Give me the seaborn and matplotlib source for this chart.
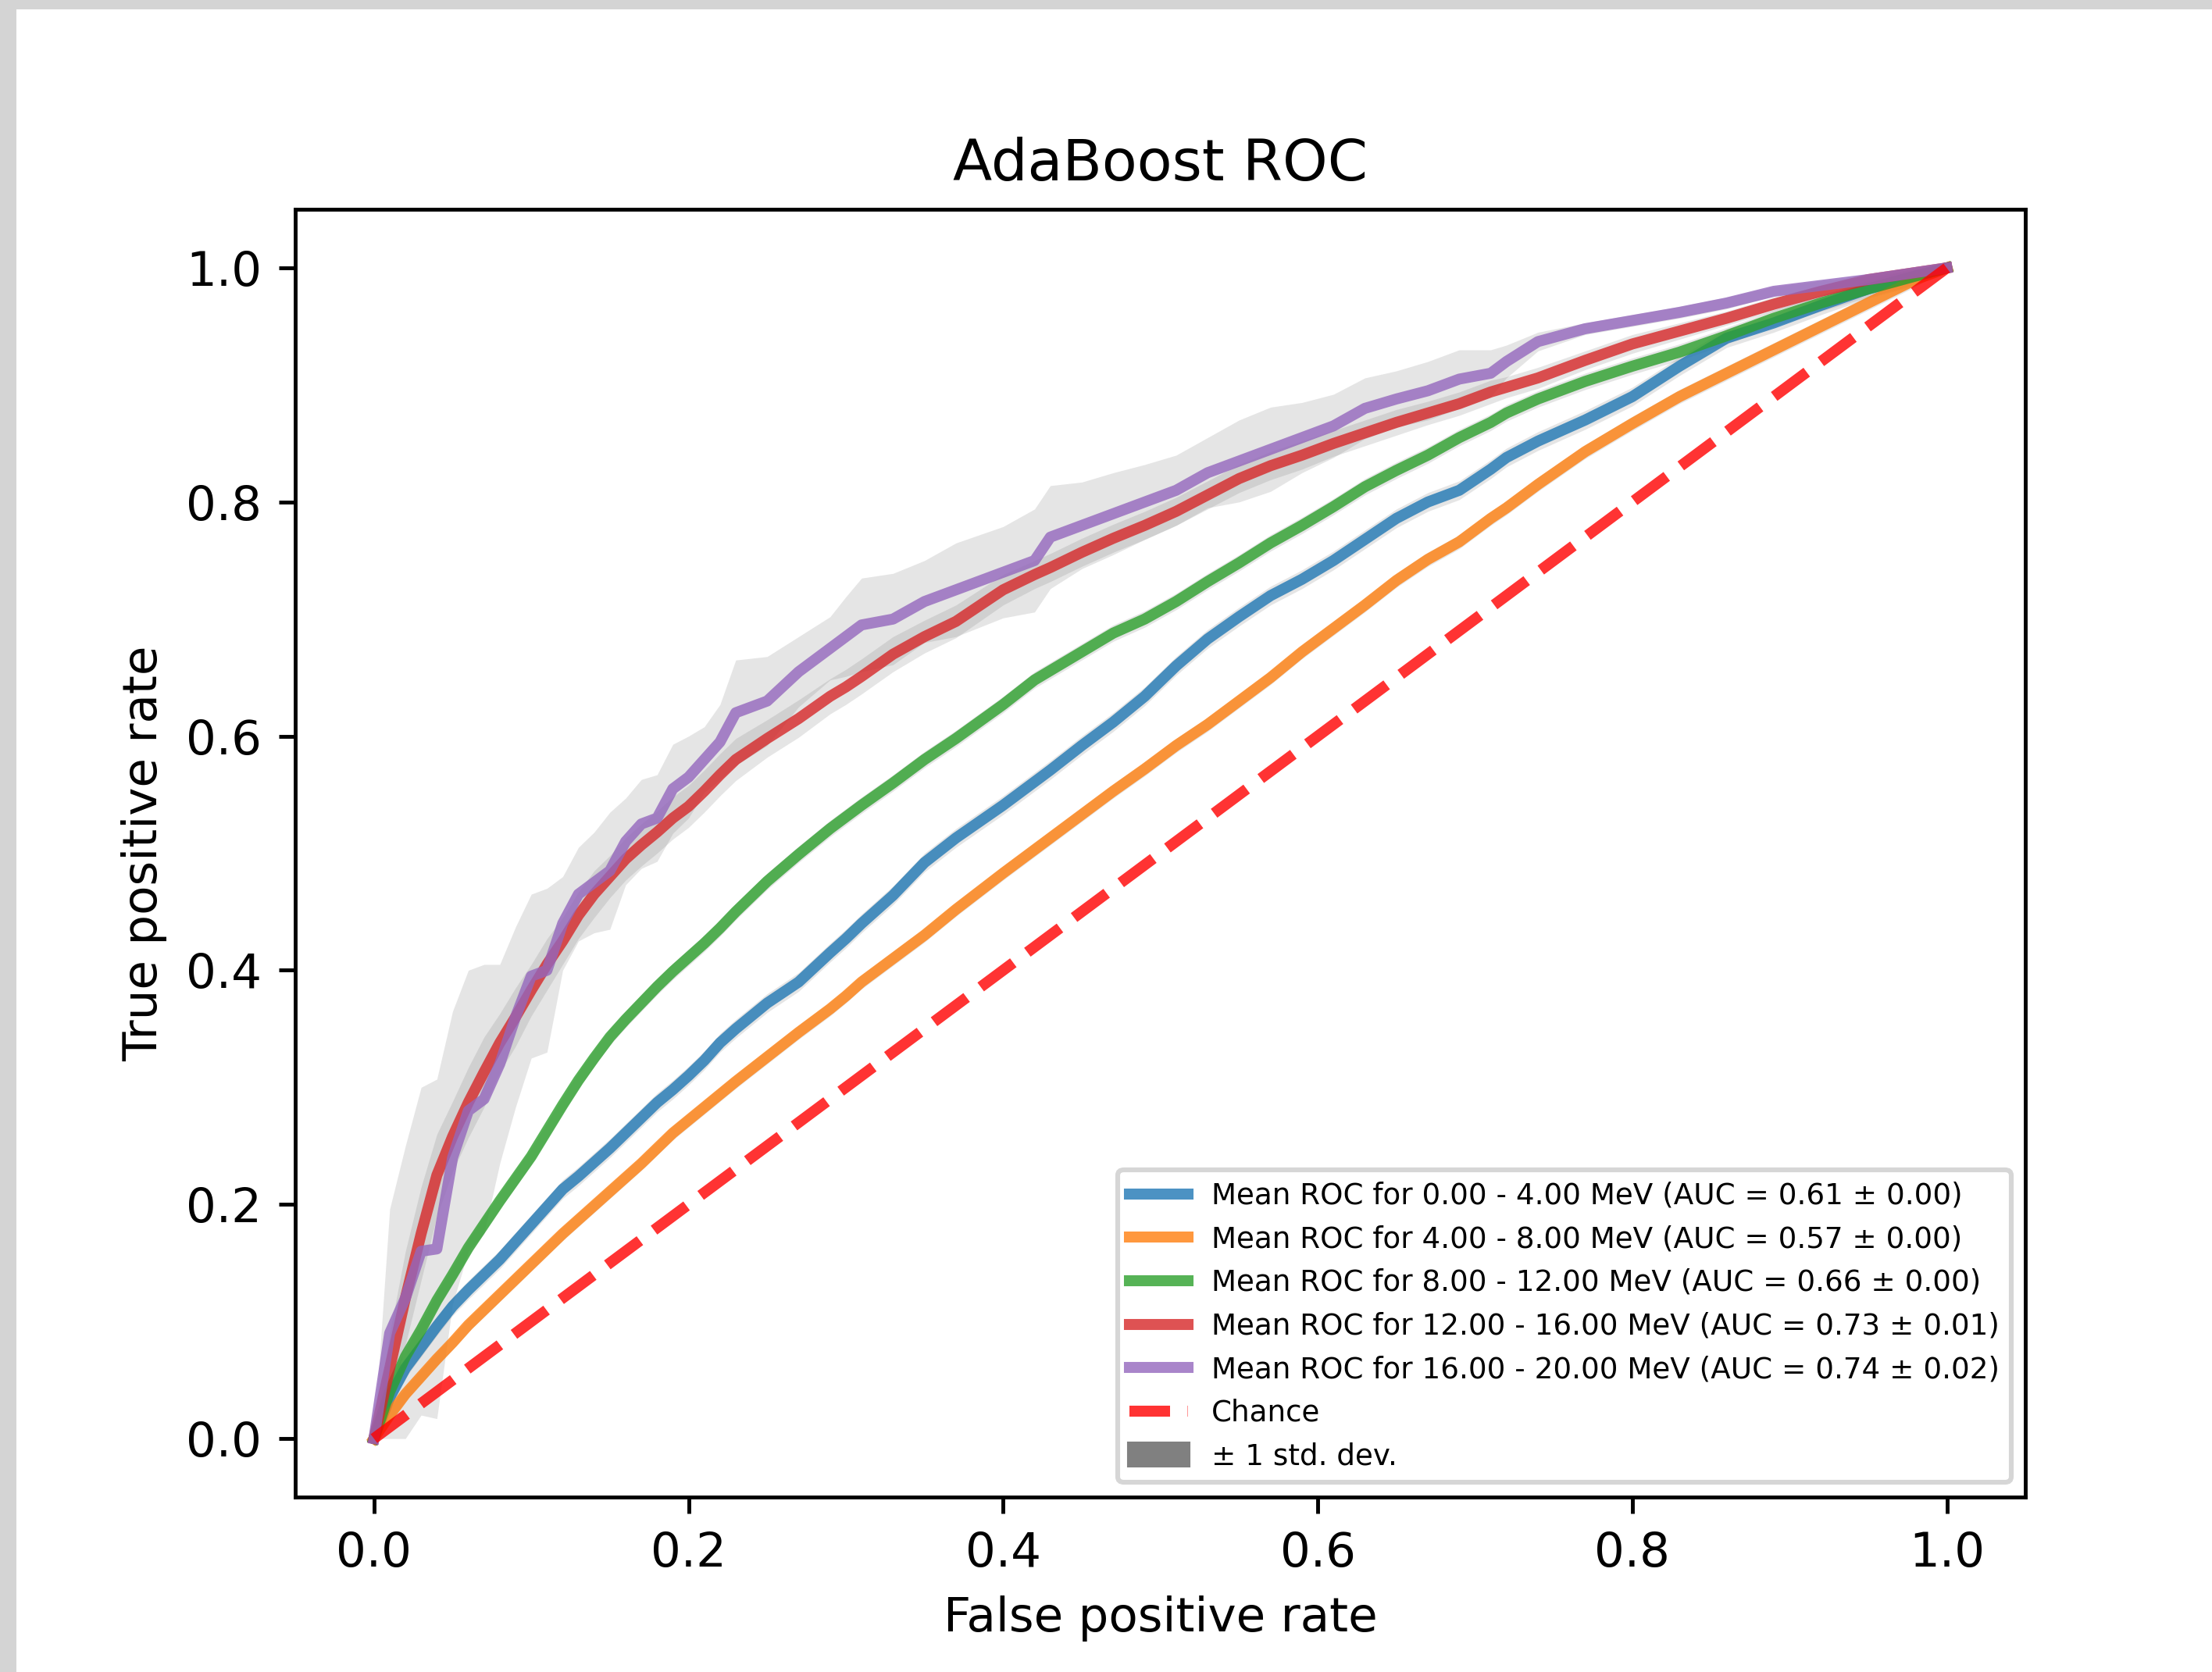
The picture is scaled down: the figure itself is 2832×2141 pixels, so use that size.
import matplotlib
matplotlib.use("Agg")
import matplotlib.pyplot as plt
from matplotlib.patches import Patch, Rectangle
from matplotlib.lines import Line2D
import numpy as np
import seaborn as sns

# ---------------- data ----------------
FPR = [0.00, 0.01, 0.02, 0.03, 0.04, 0.05, 0.06, 0.07, 0.08, 0.09,
       0.10, 0.11, 0.12, 0.13, 0.14, 0.15, 0.16, 0.17, 0.18, 0.19,
       0.20, 0.21, 0.22, 0.23, 0.25, 0.27, 0.29, 0.30, 0.31, 0.33,
       0.35, 0.37, 0.40, 0.42, 0.43, 0.45, 0.47, 0.49, 0.51, 0.53,
       0.55, 0.57, 0.59, 0.61, 0.63, 0.65, 0.67, 0.69, 0.71, 0.72,
       0.74, 0.77, 0.80, 0.83, 0.86, 0.89, 0.92, 0.95, 0.98, 1.00]

TPR_0_4 = [0.000, 0.035, 0.060, 0.078, 0.096, 0.113, 0.127, 0.140, 0.153, 0.168,
           0.183, 0.198, 0.213, 0.224, 0.236, 0.248, 0.261, 0.274, 0.287, 0.298,
           0.310, 0.323, 0.338, 0.350, 0.372, 0.390, 0.415, 0.427, 0.440, 0.464,
           0.492, 0.513, 0.541, 0.561, 0.571, 0.592, 0.612, 0.634, 0.660, 0.683,
           0.702, 0.720, 0.734, 0.750, 0.768, 0.786, 0.800, 0.810, 0.828, 0.838,
           0.852, 0.870, 0.890, 0.916, 0.940, 0.953, 0.968, 0.982, 0.993, 1.000]

TPR_4_8 = [0.000, 0.020, 0.038, 0.053, 0.068, 0.082, 0.097, 0.110, 0.123, 0.136,
           0.149, 0.162, 0.175, 0.187, 0.199, 0.211, 0.223, 0.235, 0.248, 0.261,
           0.272, 0.283, 0.294, 0.305, 0.326, 0.347, 0.367, 0.378, 0.390, 0.410,
           0.430, 0.452, 0.483, 0.503, 0.513, 0.533, 0.553, 0.572, 0.592, 0.610,
           0.630, 0.650, 0.672, 0.692, 0.712, 0.733, 0.751, 0.766, 0.786, 0.795,
           0.815, 0.843, 0.867, 0.890, 0.910, 0.930, 0.950, 0.970, 0.990, 1.000]

TPR_8_12 = [0.000, 0.040, 0.070, 0.093, 0.118, 0.140, 0.163, 0.183, 0.203, 0.222,
            0.241, 0.263, 0.285, 0.306, 0.325, 0.343, 0.358, 0.372, 0.386, 0.399,
            0.411, 0.423, 0.436, 0.450, 0.476, 0.499, 0.521, 0.531, 0.541, 0.560,
            0.580, 0.598, 0.627, 0.648, 0.656, 0.672, 0.688, 0.700, 0.715, 0.732,
            0.748, 0.765, 0.780, 0.796, 0.813, 0.827, 0.840, 0.855, 0.868, 0.876,
            0.888, 0.903, 0.916, 0.928, 0.942, 0.957, 0.970, 0.982, 0.993, 1.000]

TPR_12_16 = [0.000, 0.060, 0.120, 0.175, 0.225, 0.258, 0.287, 0.313, 0.338, 0.360,
             0.383, 0.405, 0.425, 0.447, 0.465, 0.480, 0.495, 0.507, 0.518, 0.530,
             0.540, 0.553, 0.567, 0.580, 0.598, 0.615, 0.634, 0.642, 0.651, 0.670,
             0.685, 0.698, 0.725, 0.738, 0.744, 0.757, 0.769, 0.780, 0.792, 0.806,
             0.820, 0.831, 0.840, 0.850, 0.859, 0.868, 0.876, 0.884, 0.894, 0.898,
             0.906, 0.921, 0.935, 0.946, 0.957, 0.969, 0.980, 0.990, 0.996, 1.000]

TPR_16_20 = [0.000, 0.090, 0.120, 0.160, 0.162, 0.240, 0.280, 0.290, 0.320, 0.360,
             0.395, 0.400, 0.440, 0.465, 0.475, 0.485, 0.510, 0.525, 0.530, 0.555,
             0.565, 0.580, 0.595, 0.620, 0.630, 0.655, 0.675, 0.685, 0.695, 0.700,
             0.715, 0.725, 0.740, 0.750, 0.770, 0.780, 0.790, 0.800, 0.810, 0.825,
             0.835, 0.845, 0.855, 0.865, 0.880, 0.888, 0.895, 0.905, 0.910, 0.920,
             0.937, 0.948, 0.955, 0.962, 0.970, 0.980, 0.985, 0.990, 0.996, 1.000]

STD_0_4 = [0.000] + [0.008] * 58 + [0.000]
STD_4_8 = [0.000] + [0.006] * 58 + [0.000]
STD_8_12 = [0.000] + [0.007] * 58 + [0.000]
STD_12_16 = [0.000, 0.030, 0.040, 0.040, 0.035, 0.030, 0.030, 0.030, 0.025, 0.025,
             0.022, 0.022, 0.020, 0.020, 0.020, 0.018, 0.018, 0.018, 0.018, 0.018,
             0.018, 0.018, 0.018, 0.018, 0.016, 0.016, 0.015, 0.015, 0.015, 0.015,
             0.014, 0.014, 0.013, 0.012, 0.012, 0.012, 0.012, 0.012, 0.012, 0.012,
             0.012, 0.012, 0.012, 0.011, 0.011, 0.011, 0.010, 0.010, 0.010, 0.009,
             0.009, 0.008, 0.008, 0.007, 0.006, 0.006, 0.005, 0.004, 0.003, 0.000]
STD_16_20 = [0.000, 0.106, 0.130, 0.140, 0.145, 0.125, 0.120, 0.115, 0.085, 0.077,
             0.070, 0.070, 0.040, 0.040, 0.043, 0.050, 0.037, 0.038, 0.037, 0.038,
             0.035, 0.028, 0.032, 0.045, 0.038, 0.030, 0.027, 0.034, 0.040, 0.039,
             0.035, 0.040, 0.039, 0.044, 0.044, 0.037, 0.035, 0.032, 0.030, 0.030,
             0.035, 0.036, 0.030, 0.027, 0.026, 0.024, 0.025, 0.025, 0.020, 0.014,
             0.008, 0.005, 0.005, 0.005, 0.005, 0.004, 0.004, 0.003, 0.002, 0.000]

BIN_LABELS = ["0.00 - 4.00", "4.00 - 8.00", "8.00 - 12.00", "12.00 - 16.00", "16.00 - 20.00"]
AUC_MEAN = [0.61, 0.57, 0.66, 0.73, 0.74]
AUC_STD = [0.00, 0.00, 0.00, 0.01, 0.02]
COLORS = ["#1f77b4", "#ff7f0e", "#2ca02c", "#d62728", "#9467bd"]

TPRS = [TPR_0_4, TPR_4_8, TPR_8_12, TPR_12_16, TPR_16_20]
STDS = [STD_0_4, STD_4_8, STD_8_12, STD_12_16, STD_16_20]

# ---------------- figure ----------------
DPI = 440
LW = 2.3
fig = plt.figure(figsize=(2832 / DPI, 2141 / DPI), dpi=DPI)
ax = fig.add_axes([0.1335, 0.1046, 0.7822, 0.7702])

# screenshot frame (grey strips at left and top)
fig.patches.append(Rectangle((0, 0), 21 / 2832, 1, transform=fig.transFigure,
                             facecolor="#d4d4d4", edgecolor="none", zorder=0))
fig.patches.append(Rectangle((0, 1 - 12 / 2141), 1, 12 / 2141, transform=fig.transFigure,
                             facecolor="#d4d4d4", edgecolor="none", zorder=0))

fpr = np.array(FPR)
handles = []
for tpr, std, lab, m, s, c in zip(TPRS, STDS, BIN_LABELS, AUC_MEAN, AUC_STD, COLORS):
    tpr = np.array(tpr)
    std = np.array(std)
    label = f"Mean ROC for {lab} MeV (AUC = {m:.2f} ± {s:.2f})"
    sns.lineplot(x=fpr, y=tpr, color=c, lw=LW, alpha=0.8, ax=ax, sort=False,
                 estimator=None, label=label, legend=False)
    ax.fill_between(fpr, np.maximum(tpr - std, 0), np.minimum(tpr + std, 1),
                    color="grey", alpha=0.2, lw=0)
    handles.append(Line2D([], [], color=c, lw=LW, alpha=0.8, label=label))

sns.lineplot(x=[0, 1], y=[0, 1], ax=ax, color="r", lw=LW, alpha=0.8,
             linestyle="--", estimator=None, legend=False)
handles.append(Line2D([], [], color="r", lw=LW, alpha=0.8, linestyle="--", label="Chance"))
handles.append(Patch(facecolor="grey", edgecolor="grey", label="± 1 std. dev."))

ax.set_xlim(-0.05, 1.05)
ax.set_ylim(-0.05, 1.05)
ax.set_xticks([0.0, 0.2, 0.4, 0.6, 0.8, 1.0])
ax.set_yticks([0.0, 0.2, 0.4, 0.6, 0.8, 1.0])
ax.set_xlabel("False positive rate")
ax.set_ylabel("True positive rate")
ax.set_title("AdaBoost ROC")
ax.legend(handles=handles, loc="lower right", fontsize=6.1)

fig.savefig("out.png", dpi=DPI)
